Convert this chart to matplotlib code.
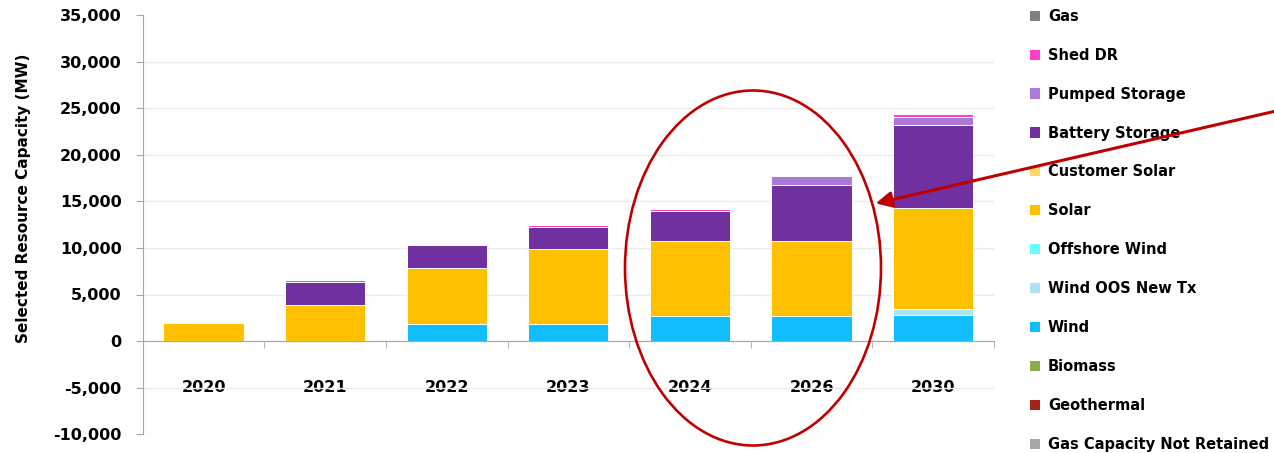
import matplotlib
matplotlib.use("Agg")
import matplotlib.pyplot as plt
from matplotlib.patches import Ellipse, Patch
import numpy as np

years = ['2020', '2021', '2022', '2023', '2024', '2026', '2030']

gas_not_retained = [0, 0, 0, 0, 0, 0, 0]
geothermal = [0, 0, 0, 0, 0, 0, 0]
biomass = [0, 0, 0, 0, 0, 0, 0]
wind = [0, 0, 1850, 1850, 2700, 2700, 2780]
wind_oos = [0, 0, 0, 0, 0, 0, 650]
offshore_wind = [0, 0, 0, 0, 0, 0, 0]
solar = [1900, 3900, 6000, 8000, 8000, 8000, 10900]
customer_solar = [0, 0, 0, 0, 0, 0, 0]
battery = [0, 2400, 2430, 2400, 3230, 6100, 8880]
pumped = [0, 0, 0, 0, 0, 970, 900]
shed_dr = [0, 250, 0, 250, 230, 0, 290]
gas = [0, 0, 0, 0, 0, 0, 0]

series = [
    ("Gas Capacity Not Retained", gas_not_retained, "#A6A6A6"),
    ("Geothermal", geothermal, "#A5241A"),
    ("Biomass", biomass, "#8AAE4B"),
    ("Wind", wind, "#12BDFD"),
    ("Wind OOS New Tx", wind_oos, "#ADE3F7"),
    ("Offshore Wind", offshore_wind, "#66FFFF"),
    ("Solar", solar, "#FFC000"),
    ("Customer Solar", customer_solar, "#FFD966"),
    ("Battery Storage", battery, "#7030A0"),
    ("Pumped Storage", pumped, "#AA7AD6"),
    ("Shed DR", shed_dr, "#FF3FCC"),
    ("Gas", gas, "#7F7F7F"),
]

fig = plt.figure(figsize=(12.74, 4.53), dpi=100)
ax = fig.add_axes([142.7 / 1274, 1 - 434 / 453, (994 - 142.7) / 1274, (434 - 15.5) / 453])

x = np.arange(len(years))
pos_bottom = np.zeros(len(years))
neg_bottom = np.zeros(len(years))
for name, vals, col in series:
    v = np.array(vals, dtype=float)
    b = np.where(v >= 0, pos_bottom, neg_bottom)
    ax.bar(x, v, bottom=b, width=0.66, color=col, edgecolor="white", linewidth=0.7, zorder=3)
    pos_bottom = pos_bottom + np.where(v > 0, v, 0)
    neg_bottom = neg_bottom + np.where(v < 0, v, 0)

ax.set_xlim(-0.5, len(years) - 0.5)
ax.set_ylim(-10000, 35000)
ax.set_yticks(np.arange(-10000, 35001, 5000))
ax.set_yticklabels([f"{t:,}" for t in range(-10000, 35001, 5000)])
ax.yaxis.grid(True, color="#EBEBEB", linewidth=1.0, zorder=0)
ax.set_axisbelow(True)

for s in ["top", "right"]:
    ax.spines[s].set_visible(False)
ax.spines["left"].set_color("#A6A6A6")
ax.spines["bottom"].set_color("#A6A6A6")
ax.spines["bottom"].set_position(("data", 0))
ax.spines["bottom"].set_zorder(4)

ax.set_xticks(x)
ax.set_xticklabels(years)
ax.set_xticks(np.arange(-0.5, len(years), 1.0), minor=True)
ax.tick_params(axis="x", which="major", length=0, pad=28)
ax.tick_params(axis="x", which="minor", length=5, color="#A6A6A6", direction="out")
ax.tick_params(axis="y", length=5, color="#A6A6A6", pad=10)
for lab in ax.get_xticklabels() + ax.get_yticklabels():
    lab.set_fontweight("bold")
    lab.set_fontsize(11.5)
    lab.set_family("DejaVu Sans")

ax.set_ylabel("Selected Resource Capacity (MW)", fontsize=11, fontweight="bold")
ax.yaxis.set_label_coords(-(142.7 - 31) / (994 - 142.7), (434 - 198) / (434 - 15.5))

handles = [Patch(facecolor=col, edgecolor="none", label=name) for name, vals, col in series[::-1]]
leg = fig.legend(handles=handles, loc="upper left", bbox_to_anchor=(1024 / 1274, 1 - 3 / 453),
                 frameon=False, fontsize=10.5, handlelength=0.7, handleheight=0.7,
                 handletextpad=0.55, labelspacing=1.64, borderaxespad=0)
for t in leg.get_texts():
    t.set_fontweight("bold")

ell = Ellipse((753 / 1274, 1 - 268 / 453), 256 / 1274, 355 / 453, transform=fig.transFigure,
              fill=False, edgecolor="#C00000", linewidth=1.9, zorder=10)
fig.add_artist(ell)

fig.add_artist(matplotlib.patches.FancyArrowPatch(
    (1276 / 1274, 1 - 111 / 453), (873 / 1274, 1 - 204 / 453), transform=fig.transFigure,
    arrowstyle="-|>", mutation_scale=24, color="#C00000", linewidth=2.2, zorder=11))

fig.savefig("out.png", dpi=100)
